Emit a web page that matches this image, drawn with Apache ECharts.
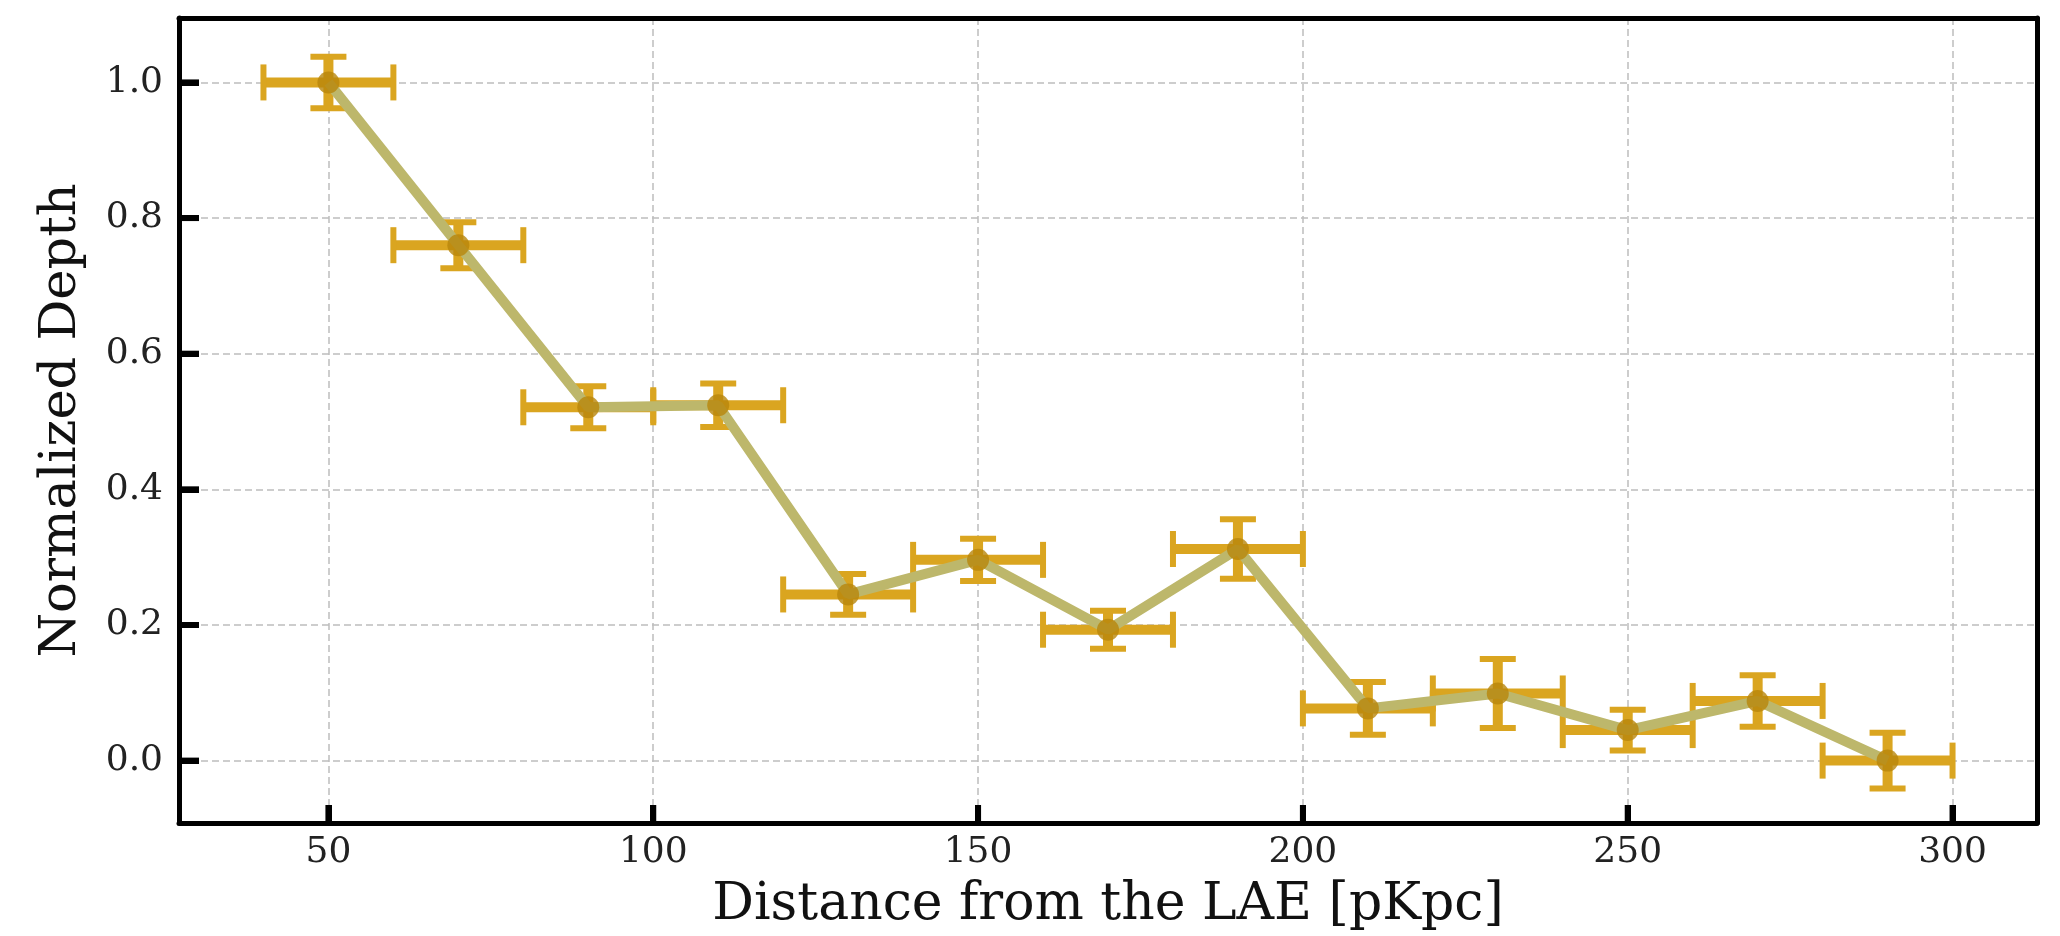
<!DOCTYPE html>
<html>
<head>
<meta charset="utf-8">
<script src="https://cdn.jsdelivr.net/npm/echarts@6/dist/echarts.min.js"></script>
<style>
  html, body { margin: 0; padding: 0; background: #fff; }
  #chart { width: 2060px; height: 936px; }
</style>
</head>
<body>
<div id="chart"></div>
<script>
// distance bins (pKpc) and half-width of each bin
const distance = [50, 70, 90, 110, 130, 150, 170, 190, 210, 230, 250, 270, 290]
const distErr = [10, 10, 10, 10, 10, 10, 10, 10, 10, 10, 10, 10, 10]
// normalized absorption depth and its error
const depth = [1.0, 0.760, 0.521, 0.524, 0.245, 0.296, 0.193, 0.312, 0.077, 0.099, 0.045, 0.088, 0.0]
const depthErr = [0.038, 0.034, 0.031, 0.032, 0.030, 0.031, 0.028, 0.044, 0.039, 0.051, 0.030, 0.038, 0.041]
// major ticks
const xTicks = [50, 100, 150, 200, 250, 300]
const yTicks = [0.0, 0.2, 0.4, 0.6, 0.8, 1.0]

const X_MIN = 27
const X_MAX = 313
const Y_MIN = -0.092
const Y_MAX = 1.095

const FONT = 'DejaVu Serif'
const ERR_COLOR = '#DAA520'
const LINE_COLOR = '#BDB76B'
const MARK_COLOR = '#B8860B'

const points = distance.map((d, i) => [d, depth[i]])
const errData = distance.map((d, i) => [d, depth[i], distErr[i], depthErr[i]])

function isMultiple (v, step) {
  return Math.abs(v / step - Math.round(v / step)) < 1e-6
}

function renderErr (params, api) {
  const x = api.value(0)
  const y = api.value(1)
  const dx = api.value(2)
  const dy = api.value(3)
  const c = api.coord([x, y])
  const l = api.coord([x - dx, y])
  const r = api.coord([x + dx, y])
  const t = api.coord([x, y + dy])
  const b = api.coord([x, y - dy])
  const cap = 18
  const stem = { stroke: ERR_COLOR, lineWidth: 10, lineCap: 'butt' }
  const capStyle = { stroke: ERR_COLOR, lineWidth: 6, lineCap: 'butt' }
  return {
    type: 'group',
    children: [
      { type: 'line', shape: { x1: l[0], y1: c[1], x2: r[0], y2: c[1] }, style: stem },
      { type: 'line', shape: { x1: c[0], y1: t[1], x2: c[0], y2: b[1] }, style: stem },
      { type: 'line', shape: { x1: l[0], y1: c[1] - cap, x2: l[0], y2: c[1] + cap }, style: capStyle },
      { type: 'line', shape: { x1: r[0], y1: c[1] - cap, x2: r[0], y2: c[1] + cap }, style: capStyle },
      { type: 'line', shape: { x1: c[0] - cap, y1: t[1], x2: c[0] + cap, y2: t[1] }, style: capStyle },
      { type: 'line', shape: { x1: c[0] - cap, y1: b[1], x2: c[0] + cap, y2: b[1] }, style: capStyle }
    ]
  }
}

const frameLine = { show: true, onZero: false, lineStyle: { color: '#000', width: 5 } }
const gridLines = { show: true, lineStyle: { color: '#bdbdbd', width: 1.5, type: [7, 4] } }

const chart = echarts.init(document.getElementById('chart'), null, { renderer: 'canvas' })

const option = {
  animation: false,
  backgroundColor: '#fff',
  grid: {
    left: 179,
    right: 23,
    top: 18,
    bottom: 112
  },
  xAxis: [
    {
      type: 'value',
      position: 'bottom',
      min: X_MIN,
      max: X_MAX,
      name: 'Distance from the LAE [pKpc]',
      nameLocation: 'middle',
      nameGap: 56,
      nameTextStyle: { fontFamily: FONT, fontSize: 52, color: '#111' },
      axisLine: frameLine,
      axisTick: { show: true, inside: true, length: 18, lineStyle: { color: '#000', width: 6 } },
      axisLabel: {
        fontFamily: FONT,
        fontSize: 36,
        color: '#222',
        margin: 12,
        showMinLabel: false,
        showMaxLabel: false,
        formatter: v => isMultiple(v, 50) ? String(v) : ''
      },
      splitLine: gridLines
    },
    {
      type: 'value',
      position: 'top',
      min: X_MIN,
      max: X_MAX,
      axisLine: frameLine,
      axisTick: { show: false },
      axisLabel: { show: false },
      splitLine: { show: false }
    }
  ],
  yAxis: [
    {
      type: 'value',
      position: 'left',
      min: Y_MIN,
      max: Y_MAX,
      name: 'Normalized Depth',
      nameLocation: 'middle',
      nameGap: 92,
      nameTextStyle: { fontFamily: FONT, fontSize: 51, color: '#111' },
      axisLine: frameLine,
      axisTick: { show: true, inside: true, length: 20, lineStyle: { color: '#000', width: 6 } },
      axisLabel: {
        fontFamily: FONT,
        fontSize: 36,
        color: '#222',
        margin: 16,
        showMinLabel: false,
        showMaxLabel: false,
        formatter: v => isMultiple(v, 0.2) ? v.toFixed(1) : ''
      },
      splitLine: gridLines
    },
    {
      type: 'value',
      position: 'right',
      min: Y_MIN,
      max: Y_MAX,
      axisLine: frameLine,
      axisTick: { show: false },
      axisLabel: { show: false },
      splitLine: { show: false }
    }
  ],
  series: [
    {
      type: 'custom',
      name: 'errors',
      renderItem: renderErr,
      data: errData,
      encode: { x: 0, y: 1 },
      z: 2
    },
    {
      type: 'line',
      name: 'depth',
      data: points,
      symbol: 'none',
      lineStyle: { color: LINE_COLOR, width: 10 },
      z: 3
    },
    {
      type: 'scatter',
      name: 'markers',
      data: points,
      symbolSize: 22,
      itemStyle: { color: MARK_COLOR },
      z: 4
    }
  ]
}

chart.setOption(option)

// inward tick marks (bottom and left only), placed through the axis scales
const finder = { xAxisIndex: 0, yAxisIndex: 0 }
const corner = chart.convertToPixel(finder, [X_MIN, Y_MIN])
const tickMarks = []
xTicks.forEach(v => {
  const px = chart.convertToPixel(finder, [v, Y_MIN])[0]
  tickMarks.push({
    type: 'rect',
    z: 100,
    shape: { x: px - 3, y: corner[1] - 18, width: 6, height: 18 },
    style: { fill: '#000' }
  })
})
yTicks.forEach(v => {
  const py = chart.convertToPixel(finder, [X_MIN, v])[1]
  tickMarks.push({
    type: 'rect',
    z: 100,
    shape: { x: corner[0], y: py - 3, width: 20, height: 6 },
    style: { fill: '#000' }
  })
})
chart.setOption({ graphic: tickMarks })
</script>
</body>
</html>
